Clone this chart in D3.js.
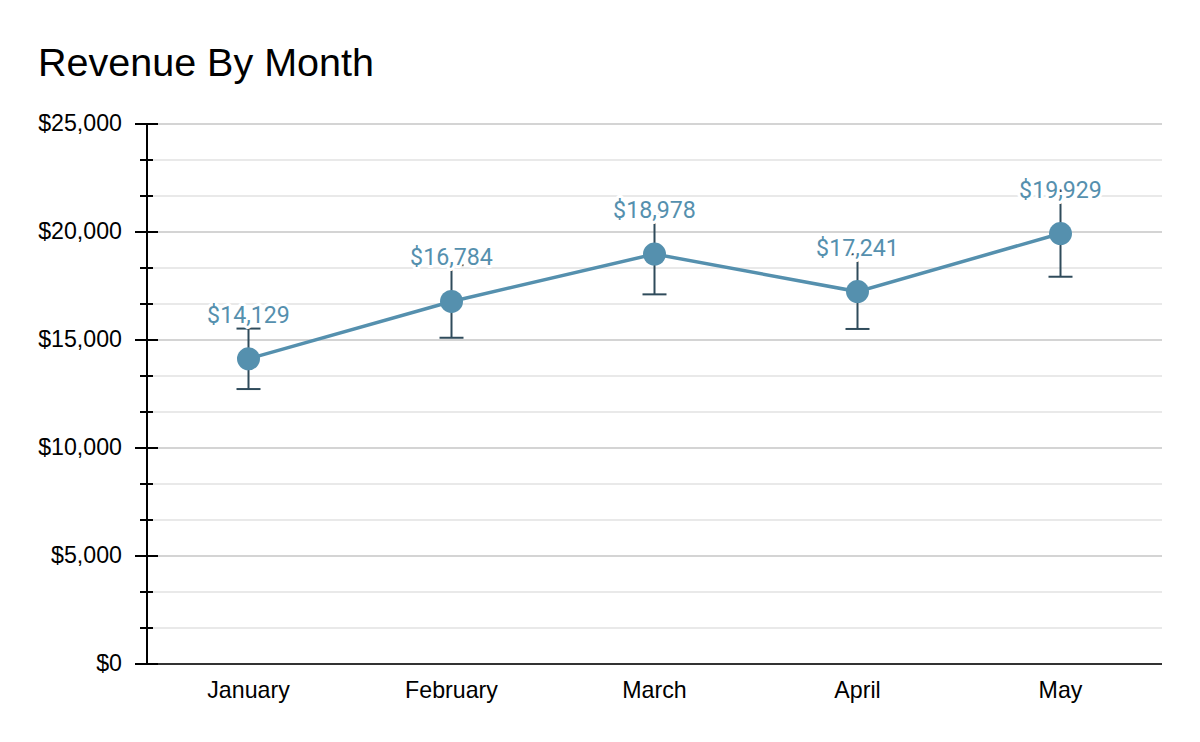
<!DOCTYPE html>
<html>
<head>
<meta charset="utf-8">
<script src="https://cdn.jsdelivr.net/npm/d3@7"></script>
<style>
  html, body { margin: 0; padding: 0; background: #fff; }
  svg { display: block; }
</style>
</head>
<body>
<svg id="chart" width="1200" height="742"></svg>
<script>
const months = ["January", "February", "March", "April", "May"];
const revenue = [14129, 16784, 18978, 17241, 19929];
const errors = [1400, 1680, 1865, 1730, 2000];
const majorTicks = [0, 5000, 10000, 15000, 20000, 25000];
const minorTicks = d3.range(0, 25001, 5000 / 3);
const title = "Revenue By Month";

const W = 1200, H = 742;
const m = { left: 147, right: 38, top: 124, bottom: 78 };
const svg = d3.select("#chart");

const x = d3.scalePoint().domain(months).range([m.left, W - m.right]).padding(0.5);
const y = d3.scaleLinear().domain([0, 25000]).range([H - m.bottom, m.top]);

const lineColor = "#5590ae";
const errColor = "#2f4b5b";
const axisFont = "'Liberation Sans', Arial, sans-serif";
const axisSize = 23.2;

// title
svg.append("text").attr("x", 38).attr("y", 76)
  .attr("font-family", axisFont).attr("font-size", 39.5).attr("fill", "#000")
  .text(title);

// grid lines
const isMajor = d => Math.abs(d / 5000 - Math.round(d / 5000)) < 1e-6;
svg.append("g").selectAll("line").data(minorTicks.filter(v => v > 0))
  .join("line")
  .attr("x1", m.left).attr("x2", W - m.right)
  .attr("y1", d => y(d)).attr("y2", d => y(d))
  .attr("stroke", d => isMajor(d) ? "#c6c6c6" : "#e2e2e2")
  .attr("stroke-width", 1.5);

// x axis line
svg.append("line").attr("x1", m.left).attr("x2", W - m.right)
  .attr("y1", y(0)).attr("y2", y(0)).attr("stroke", "#333").attr("stroke-width", 2);

// y axis
const yAxis = svg.append("g");
yAxis.append("line").attr("x1", m.left).attr("x2", m.left)
  .attr("y1", y(25000) - 1).attr("y2", y(0) + 1).attr("stroke", "#000").attr("stroke-width", 2);
yAxis.selectAll("line.minor").data(minorTicks).join("line").attr("class", "minor")
  .attr("x1", m.left - 7).attr("x2", m.left + 6)
  .attr("y1", d => y(d)).attr("y2", d => y(d))
  .attr("stroke", "#000").attr("stroke-width", 2);
yAxis.selectAll("line.major").data(majorTicks).join("line").attr("class", "major")
  .attr("x1", m.left - 12).attr("x2", m.left + 11)
  .attr("y1", d => y(d)).attr("y2", d => y(d))
  .attr("stroke", "#000").attr("stroke-width", 2);
const fmt = d3.format("$,");
yAxis.selectAll("text").data(majorTicks).join("text")
  .attr("x", m.left - 25).attr("y", d => y(d)).attr("dy", "0.32em")
  .attr("text-anchor", "end").attr("font-family", axisFont).attr("font-size", axisSize)
  .attr("fill", "#000").text(d => fmt(d));

// x labels
svg.append("g").selectAll("text").data(months).join("text")
  .attr("x", d => x(d)).attr("y", H - m.bottom + 34)
  .attr("text-anchor", "middle").attr("font-family", axisFont).attr("font-size", axisSize)
  .attr("fill", "#000").text(d => d);

const pts = months.map((mo, i) => ({ mo, v: revenue[i], lo: revenue[i] - errors[i], hi: revenue[i] + errors[i] }));

// error bars
const eb = svg.append("g").attr("stroke", errColor).attr("stroke-width", 2);
eb.selectAll("line.v").data(pts).join("line").attr("class", "v")
  .attr("x1", d => x(d.mo)).attr("x2", d => x(d.mo))
  .attr("y1", d => y(d.lo)).attr("y2", d => y(d.hi));
eb.selectAll("line.lo").data(pts).join("line").attr("class", "lo")
  .attr("x1", d => x(d.mo) - 12).attr("x2", d => x(d.mo) + 12)
  .attr("y1", d => y(d.lo)).attr("y2", d => y(d.lo));
eb.selectAll("line.hi").data(pts).join("line").attr("class", "hi")
  .attr("x1", d => x(d.mo) - 12).attr("x2", d => x(d.mo) + 12)
  .attr("y1", d => y(d.hi)).attr("y2", d => y(d.hi));

// line
svg.append("path").datum(pts)
  .attr("d", d3.line().x(d => x(d.mo)).y(d => y(d.v)))
  .attr("fill", "none").attr("stroke", lineColor).attr("stroke-width", 3.5);

// points
svg.append("g").selectAll("circle").data(pts).join("circle")
  .attr("cx", d => x(d.mo)).attr("cy", d => y(d.v)).attr("r", 11.5)
  .attr("fill", lineColor);

// value labels
svg.append("g").selectAll("text").data(pts).join("text")
  .attr("x", d => x(d.mo)).attr("y", d => y(d.v) - 36)
  .attr("text-anchor", "middle").attr("font-family", "Roboto, sans-serif").attr("font-size", 23.2)
  .attr("fill", lineColor).attr("stroke", "#fff").attr("stroke-width", 6)
  .attr("paint-order", "stroke").attr("stroke-linejoin", "round")
  .text(d => fmt(d.v));
</script>
</body>
</html>
